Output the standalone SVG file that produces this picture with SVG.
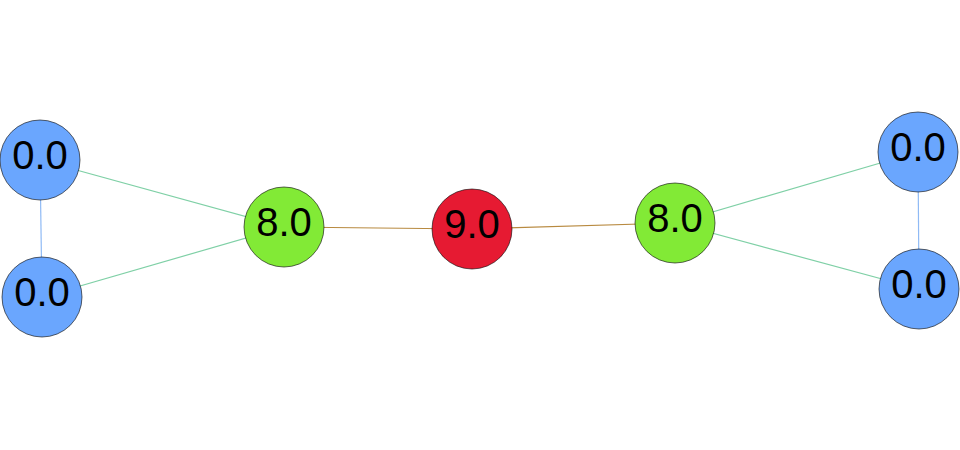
<svg xmlns="http://www.w3.org/2000/svg" width="960" height="450" viewBox="0 0 960 450">
<style>
.n circle{stroke:#000;stroke-width:0.6}
.n text{font-family:"Liberation Sans",Arial,sans-serif;font-size:40px;text-anchor:middle;fill:#000}
.b{fill:#6aa6fe}.g{fill:#82ea36}.r{fill:#e61a32}
.e line{stroke-width:1.2}
</style>
<rect width="960" height="450" fill="#fff"/>
<g id="edges" class="e">
<line x1="40" y1="160" x2="42" y2="297" stroke="#8fbaf5"/>
<line x1="40" y1="160" x2="284" y2="227" stroke="#7fd0a6"/>
<line x1="42" y1="297" x2="284" y2="227" stroke="#7fd0a6"/>
<line x1="284" y1="227" x2="472" y2="229" stroke="#b88a40"/>
<line x1="472" y1="229" x2="675" y2="223" stroke="#b88a40"/>
<line x1="675" y1="223" x2="918" y2="152" stroke="#7fd0a6"/>
<line x1="675" y1="223" x2="919" y2="289" stroke="#7fd0a6"/>
<line x1="918" y1="152" x2="919" y2="289" stroke="#8fbaf5"/>
</g>
<g id="n1" class="n"><circle class="b" cx="40" cy="160" r="40"/><text x="40" y="169">0.0</text></g>
<g id="n2" class="n"><circle class="b" cx="42" cy="297" r="40"/><text x="42" y="306">0.0</text></g>
<g id="n3" class="n"><circle class="g" cx="284" cy="227" r="40"/><text x="284" y="236">8.0</text></g>
<g id="n4" class="n"><circle class="r" cx="472" cy="229" r="40"/><text x="472" y="238">9.0</text></g>
<g id="n5" class="n"><circle class="g" cx="675" cy="223" r="40"/><text x="675" y="232">8.0</text></g>
<g id="n6" class="n"><circle class="b" cx="918" cy="152" r="40"/><text x="918" y="161">0.0</text></g>
<g id="n7" class="n"><circle class="b" cx="919" cy="289" r="40"/><text x="919" y="298">0.0</text></g>
</svg>
